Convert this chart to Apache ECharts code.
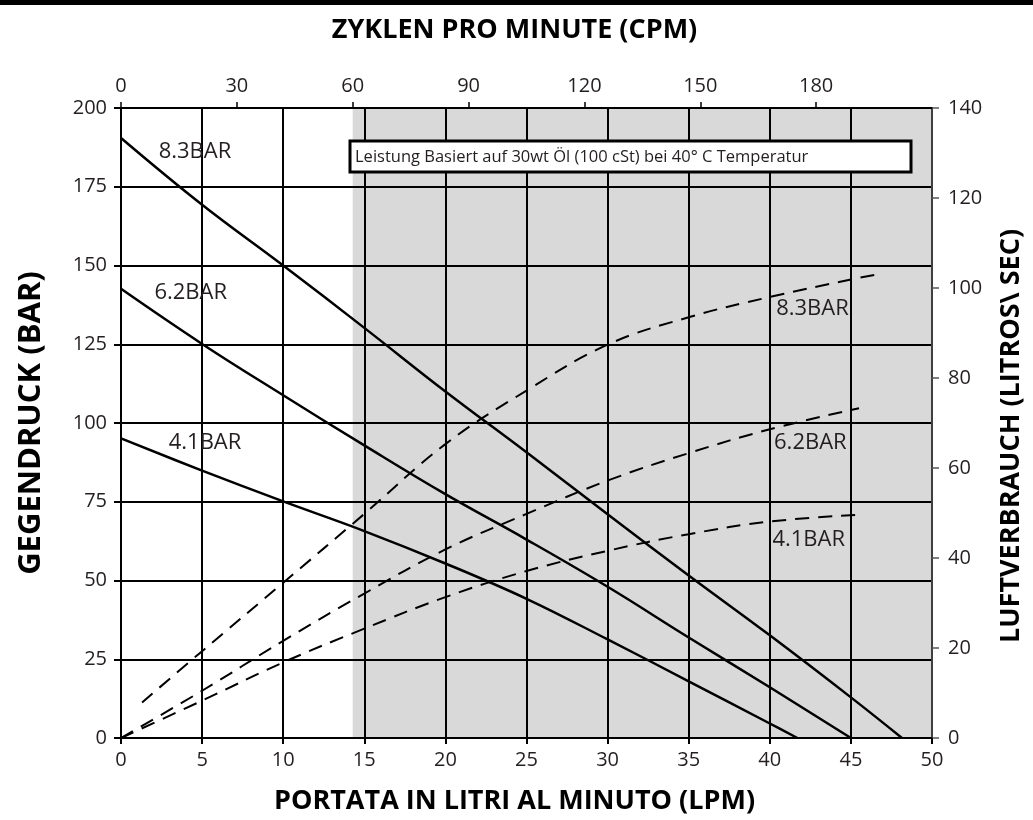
<!DOCTYPE html>
<html><head><meta charset="utf-8">
<script src="https://cdn.jsdelivr.net/npm/echarts@6/dist/echarts.min.js"></script>
<style>html,body{margin:0;padding:0;background:#fff}#c{width:1033px;height:820px}</style>
</head><body><div id="c"></div>
<script>
// ---- data ----
const flow83 = [0, 5, 10, 15, 20, 25, 30, 35, 40, 45, 48.15];
const press83 = [190.5, 169.3, 150, 130.2, 110, 90.7, 71, 51.6, 32.6, 12.9, 0];
const flow62 = [0, 5, 10, 15, 20, 25, 30, 35, 40, 45];
const press62 = [142.6, 125.1, 108.8, 92.9, 77.4, 63, 48, 31.9, 16.1, 0];
const flow41 = [0, 5, 10, 15, 20, 25, 30, 35, 40, 41.7];
const press41 = [95.1, 84.9, 75.1, 65.7, 55.4, 44.2, 31.3, 18, 4.6, 0];

const airFlow83 = [1.3, 5, 10, 15, 20, 25, 30, 35, 40, 45, 46.6];
const air83 = [7.9, 19.3, 34.5, 49.8, 65.3, 77.2, 87.4, 93.5, 98, 101.9, 103];
const airFlow62 = [0, 5, 10, 15, 20, 25, 30, 35, 40, 45.5];
const air62 = [0, 10.5, 21.6, 32.1, 41.9, 49.8, 57.2, 63.3, 68.6, 73.3];
const airFlow41 = [0, 5, 10, 15, 20, 25, 30, 35, 40, 45.5];
const air41 = [0, 8.3, 16.8, 24.3, 31.3, 37.1, 41.6, 45.3, 48.1, 49.6];

const seriesNames = ['8.3BAR', '6.2BAR', '4.1BAR'];
const shadeCPM = [60, 210];
const note = 'Leistung Basiert auf 30wt Öl (100 cSt) bei 40° C Temperatur';
const xTitle = 'PORTATA IN LITRI AL MINUTO (LPM)';
const x2Title = 'ZYKLEN PRO MINUTE (CPM)';
const yTitle = 'GEGENDRUCK (BAR)';
const y2Title = 'LUFTVERBRAUCH (LITROS\\ SEC)';

const zip = (a, b) => a.map((v, i) => [v, b[i]]);
const FONT = '"Open Sans", sans-serif';
const txt = '#231f20';

function lbl(name, coord) {
  return {
    symbol: 'rect', symbolSize: 1, itemStyle: {color: 'rgba(0,0,0,0)'}, silent: true, z: 10,
    label: {show: true, position: 'inside', formatter: name, fontFamily: FONT, fontSize: 22, color: txt},
    data: [{coord: coord}]
  };
}

const solid = {type: 'solid', width: 2.5, color: '#000'};
const dashed = {type: [14, 9], width: 2, color: '#000'};

const chart = echarts.init(document.getElementById('c'), null, {renderer: 'canvas'});
chart.setOption({
  animation: false,
  backgroundColor: '#fff',
  grid: {left: 121, right: 101, top: 108, bottom: 81, containLabel: false},
  xAxis: [
    {type: 'value', position: 'bottom', min: 0, max: 50, interval: 5,
     axisLine: {show: true, onZero: false, lineStyle: {color: '#000', width: 2}},
     axisTick: {show: true, length: 6, lineStyle: {color: '#000', width: 2}},
     splitLine: {show: true, lineStyle: {color: '#000', width: 2}},
     axisLabel: {fontFamily: FONT, fontSize: 20, color: txt, margin: 12},
     name: xTitle, nameLocation: 'middle', nameGap: 50,
     nameTextStyle: {fontFamily: FONT, fontSize: 27, fontWeight: 'bold', color: '#000', padding: [0, 24, 0, 0]}},
    {type: 'value', position: 'top', min: 0, max: 210, interval: 30,
     axisLine: {show: true, onZero: false, lineStyle: {color: '#000', width: 2}},
     axisTick: {show: true, length: 6, lineStyle: {color: '#000', width: 1.5}},
     splitLine: {show: false},
     axisLabel: {fontFamily: FONT, fontSize: 20, color: txt, margin: 12, showMaxLabel: false},
     name: x2Title, nameLocation: 'middle', nameGap: 64,
     nameTextStyle: {fontFamily: FONT, fontSize: 27, fontWeight: 'bold', color: '#000', padding: [0, 24, 0, 0]}}
  ],
  yAxis: [
    {type: 'value', position: 'left', min: 0, max: 200, interval: 25,
     axisLine: {show: true, onZero: false, lineStyle: {color: '#000', width: 2}},
     axisTick: {show: true, length: 7, lineStyle: {color: '#000', width: 2}},
     splitLine: {show: true, lineStyle: {color: '#000', width: 2}},
     axisLabel: {fontFamily: FONT, fontSize: 20, color: txt, margin: 14},
     name: yTitle, nameLocation: 'middle', nameGap: 74, nameRotate: 90,
     nameTextStyle: {fontFamily: FONT, fontSize: 31, fontWeight: 'bold', color: '#000'}},
    {type: 'value', position: 'right', min: 0, max: 140, interval: 20,
     axisLine: {show: true, onZero: false, lineStyle: {color: '#555', width: 1.5}},
     axisTick: {show: true, length: 7, lineStyle: {color: '#555', width: 1.5}},
     splitLine: {show: false},
     axisLabel: {fontFamily: FONT, fontSize: 20, color: txt, margin: 16},
     name: y2Title, nameLocation: 'middle', nameGap: 66, nameRotate: 90,
     nameTextStyle: {fontFamily: FONT, fontSize: 27, fontWeight: 'bold', color: '#000', padding: [0, 26, 0, 0]}}
  ],
  series: [
    {type: 'line', xAxisIndex: 1, yAxisIndex: 0, z: -5, zlevel: 0, silent: true,
     data: [[shadeCPM[0], 0], [shadeCPM[1], 0]], symbol: 'none', lineStyle: {width: 0, opacity: 0},
     markArea: {silent: true, z: -5, itemStyle: {color: '#d9d9d9'}, data: [[{xAxis: shadeCPM[0]}, {xAxis: shadeCPM[1]}]]}},
    {name: seriesNames[0], type: 'line', smooth: 0.4, symbol: 'none', lineStyle: solid, data: zip(flow83, press83),
     markPoint: lbl(seriesNames[0], [4.56, 186])},
    {name: seriesNames[1], type: 'line', smooth: 0.4, symbol: 'none', lineStyle: solid, data: zip(flow62, press62),
     markPoint: lbl(seriesNames[1], [4.3, 141.2])},
    {name: seriesNames[2], type: 'line', smooth: 0.4, symbol: 'none', lineStyle: solid, data: zip(flow41, press41),
     markPoint: lbl(seriesNames[2], [5.18, 93.7])},
    {name: seriesNames[0] + ' air', type: 'line', yAxisIndex: 1, smooth: 0.4, symbol: 'none', lineStyle: dashed,
     data: zip(airFlow83, air83), markPoint: lbl(seriesNames[0], [42.63, 95.3])},
    {name: seriesNames[1] + ' air', type: 'line', yAxisIndex: 1, smooth: 0.4, symbol: 'none', lineStyle: dashed,
     data: zip(airFlow62, air62), markPoint: lbl(seriesNames[1], [42.5, 65.7])},
    {name: seriesNames[2] + ' air', type: 'line', yAxisIndex: 1, smooth: 0.4, symbol: 'none', lineStyle: dashed,
     data: zip(airFlow41, air41), markPoint: lbl(seriesNames[2], [42.4, 43.97])}
  ],
  graphic: [
    {type: 'rect', z: 100, left: 0, top: 0, shape: {width: 1033, height: 5}, style: {fill: '#000'}},
    {type: 'rect', z: 100, x: 350, y: 141, shape: {x: 0, y: 0, width: 561, height: 31}, style: {fill: '#fff', stroke: '#000', lineWidth: 3}},
    {type: 'text', z: 101, x: 355, y: 157, style: {text: note, font: '16.5px "Open Sans", sans-serif', fill: txt, textVerticalAlign: 'middle'}}
  ]
});
</script></body></html>
